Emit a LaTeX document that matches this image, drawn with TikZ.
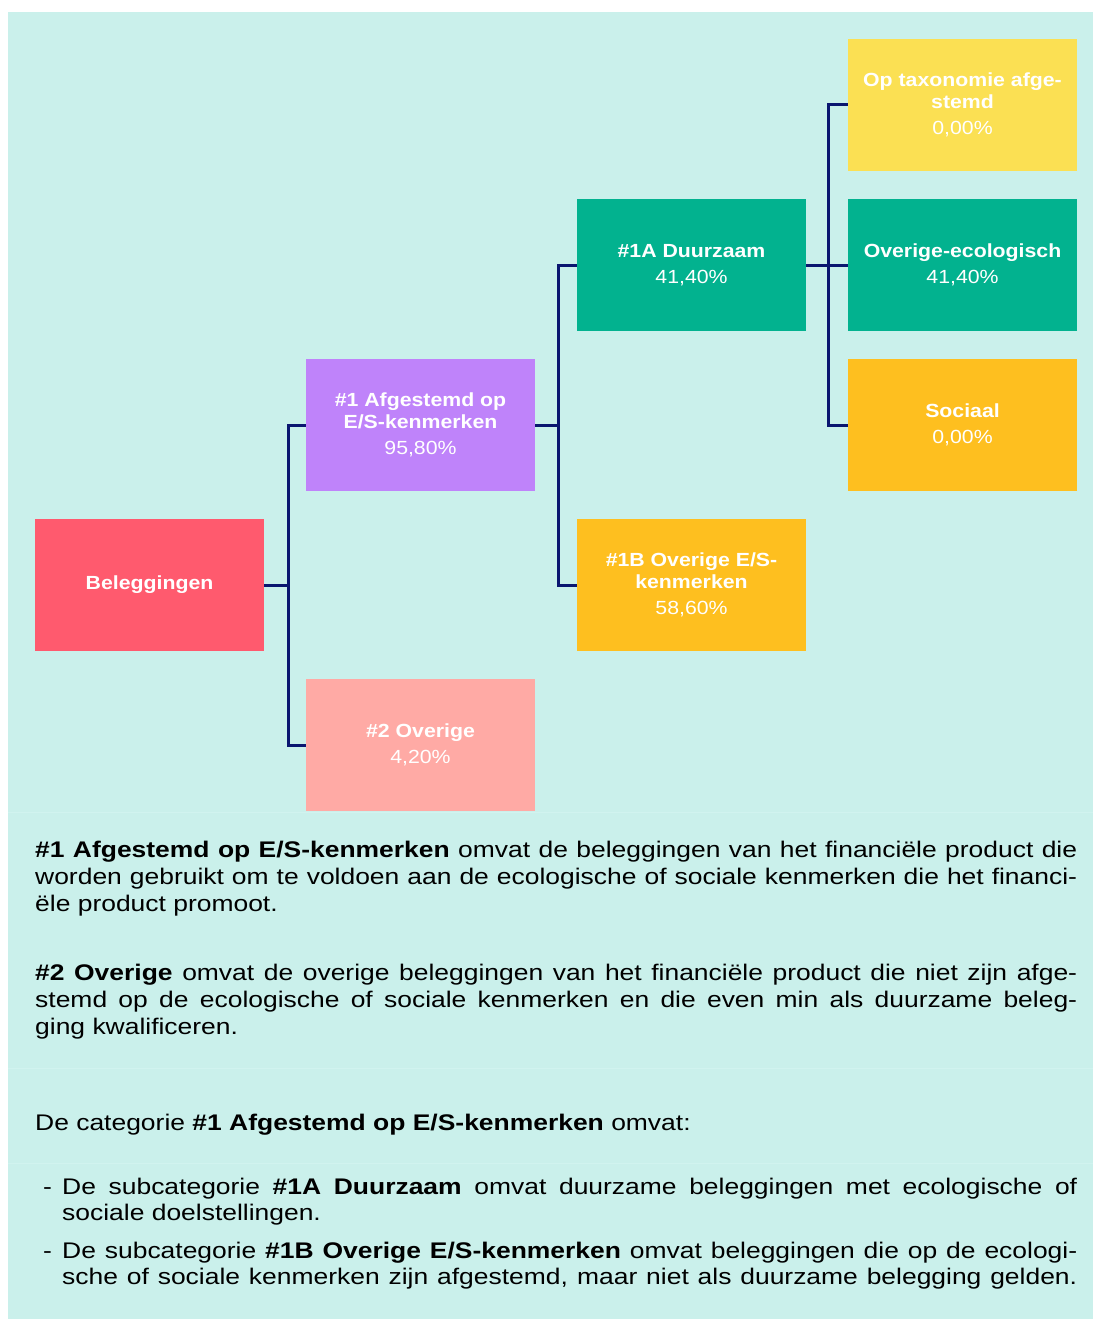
\documentclass[tikz,border=0pt]{standalone}
\usepackage{fontspec}
\setmainfont{Liberation Sans}[FakeStretch=1.12]
\newfontfamily\bodyfont{Liberation Sans}[FakeStretch=1.17]
\definecolor{bgteal}{RGB}{202,240,235}
\definecolor{seam}{RGB}{209,243,239}
\definecolor{navyline}{RGB}{10,22,112}
\definecolor{cred}{RGB}{255,90,110}
\definecolor{cpurple}{RGB}{191,131,250}
\definecolor{csalmon}{RGB}{255,170,165}
\definecolor{cgreen}{RGB}{2,178,143}
\definecolor{camber}{RGB}{254,191,31}
\definecolor{cyellow}{RGB}{251,224,83}
\tolerance=9999
\hyphenpenalty=10000
\exhyphenpenalty=10000
\begin{document}
\begin{tikzpicture}[x=1pt,y=-1pt,
  box/.style={minimum width=229pt, minimum height=132pt, inner sep=0pt,
    align=center, text=white, font=\fontsize{19}{22}\selectfont\bfseries},
  conn/.style={draw=navyline, line width=3pt},
  body/.style={anchor=base west, inner sep=0pt, text width=1042pt,
    align=justify, font=\bodyfont\fontsize{22.6}{27}\selectfont},
  bullettext/.style={anchor=base west, inner sep=0pt, text width=1015pt,
    align=justify, font=\bodyfont\fontsize{22.6}{26}\selectfont},
  dashmark/.style={anchor=base west, inner sep=0pt, font=\bodyfont\fontsize{22.6}{26}\selectfont}]
\useasboundingbox (0,0) rectangle (1093,1319);
\fill[bgteal] (8,12) rectangle (1093,1319);
\draw[seam, line width=1pt] (8,812) -- (1093,812);
\draw[seam, line width=1pt] (8,1068) -- (1093,1068);
\draw[seam, line width=1pt] (8,1163) -- (1093,1163);

% boxes
\node[box, fill=cred] (bel) at (149.5,585) {Beleggingen};
\node[box, fill=cpurple] (a1) at (420.5,425) {\#1 Afgestemd op\\E/S-kenmerken\\[4.5pt]\mdseries 95,80\%};
\node[box, fill=csalmon] (a2) at (420.5,745) {\#2 Overige\\[4.5pt]\mdseries 4,20\%};
\node[box, fill=cgreen] (b1) at (691.5,265) {\#1A Duurzaam\\[4.5pt]\mdseries 41,40\%};
\node[box, fill=camber] (b2) at (691.5,585) {\#1B Overige E/S-\\kenmerken\\[4.5pt]\mdseries 58,60\%};
\node[box, fill=cyellow] (tax) at (962.5,105) {Op taxonomie afge-\\stemd\\[4.5pt]\mdseries 0,00\%};
\node[box, fill=cgreen] (eco) at (962.5,265) {Overige-ecologisch\\[4.5pt]\mdseries 41,40\%};
\node[box, fill=camber] (soc) at (962.5,425) {Sociaal\\[4.5pt]\mdseries 0,00\%};

% connectors
\draw[conn] (bel.east) -- ++(24,0) |- (a1.west);
\draw[conn] (bel.east) -- ++(24,0) |- (a2.west);
\draw[conn] (a1.east) -- ++(23,0) |- (b1.west);
\draw[conn] (a1.east) -- ++(23,0) |- (b2.west);
\draw[conn] (b1.east) -- ++(22,0) |- (tax.west);
\draw[conn] (b1.east) -- (eco.west);
\draw[conn] (b1.east) -- ++(22,0) |- (soc.west);

% text
\node[body] (p1) at (35,857) {\textbf{\#1 Afgestemd op E/S-kenmerken} omvat de beleggingen van het financiële product die\linebreak worden gebruikt om te voldoen aan de ecologische of sociale kenmerken die het financi-\linebreak ële product promoot.};
\node[body] (p2) at (35,980) {\textbf{\#2 Overige} omvat de overige beleggingen van het financiële product die niet zijn afge-\linebreak stemd op de ecologische of sociale kenmerken en die even min als duurzame beleg-\linebreak ging kwalificeren.};
\node[body] (p3) at (35,1130) {De categorie \textbf{\#1 Afgestemd op E/S-kenmerken} omvat:};
\node[dashmark] (d1) at (43,1194) {-};
\node[bullettext] (t1) at (62,1194) {De subcategorie \textbf{\#1A Duurzaam} omvat duurzame beleggingen met ecologische of\linebreak sociale doelstellingen.};
\node[dashmark] (d2) at (43,1258) {-};
\node[bullettext] (t2) at (62,1258) {\parfillskip=0pt De subcategorie \textbf{\#1B Overige E/S-kenmerken} omvat beleggingen die op de ecologi-\linebreak sche of sociale kenmerken zijn afgestemd, maar niet als duurzame belegging gelden.\par};
\end{tikzpicture}
\end{document}
